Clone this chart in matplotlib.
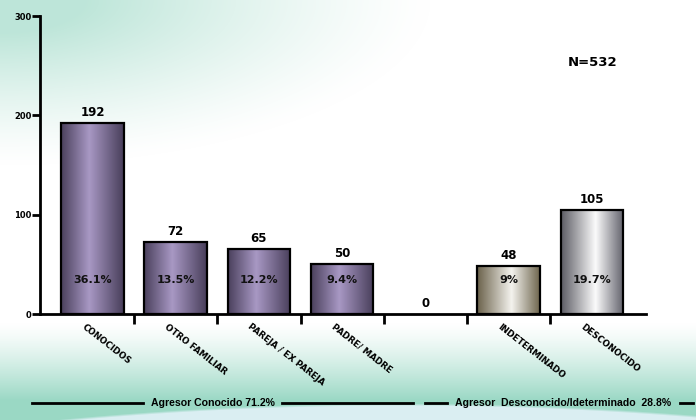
import numpy as np
import matplotlib
matplotlib.use("Agg")
import matplotlib.pyplot as plt
from matplotlib.colors import LinearSegmentedColormap

# datos
categorias = ["CONOCIDOS", "OTRO FAMILIAR", "PAREJA / EX PAREJA", "PADRE/ MADRE",
              "", "INDETERMINADO", "DESCONOCIDO"]
casos = [192, 72, 65, 50, 0, 48, 105]
porcentajes = ["36.1%", "13.5%", "12.2%", "9.4%", "", "9%", "19.7%"]
grupo = ["morado", "morado", "morado", "morado", "morado", "oliva", "gris"]
total_txt = "N=532"
leyenda_conocido = "Agresor Conocido 71.2%"
leyenda_desconocido = "Agresor  Desconocido/Ideterminado  28.8%"

# degradados horizontales de cada barra (borde oscuro, centro claro)
degradados = {
    "morado": [(0.0, "#4a405c"), (0.45, "#a898c4"), (1.0, "#483e5a")],
    "oliva": [(0.0, "#6a614a"), (0.55, "#f4f3ee"), (1.0, "#6e664e")],
    "gris": [(0.0, "#5c5c64"), (0.55, "#fbfbfb"), (1.0, "#60606a")],
}

W, H = 696, 420
fig = plt.figure(figsize=(W / 100, H / 100), dpi=100)

# fondo decorativo
yy, xx = np.mgrid[0:H, 0:W].astype(float)
img = np.ones((H, W, 3))
verde = np.array([100, 195, 165]) / 255.0
r = np.sqrt((xx / 430.0) ** 2 + (yy / 165.0) ** 2)
a_sup = np.clip((1 - r) / 0.8, 0, 1) ** 1.3 * 0.42
a_inf = np.clip((yy - 322) / 78.0, 0, 1) ** 1.3 * 0.65
alpha = np.maximum(a_sup, a_inf)[..., None]
img = img * (1 - alpha) + verde * alpha
elip = ((xx - 400) / 1352.0) ** 2 + ((yy - 897) / 494.0) ** 2
celeste = np.array([218, 238, 242]) / 255.0
m = np.clip((1 - elip) / 0.01, 0, 1)[..., None]
img = img * (1 - m) + celeste * m
bg = fig.add_axes([0, 0, 1, 1])
bg.imshow(img, extent=[0, W, H, 0], aspect="auto", zorder=0)
bg.set_xlim(0, W)
bg.set_ylim(H, 0)
bg.axis("off")

# grafico principal
ax = fig.add_axes([40 / W, (H - 314) / H, (646 - 40) / W, (314 - 16) / H])
ax.patch.set_alpha(0)
x = np.arange(len(categorias))

barras = ax.bar(x, casos, width=0.75, facecolor="none", edgecolor="black",
                linewidth=1.6, zorder=3)
grad = np.linspace(0, 1, 256).reshape(1, -1)
for b, g in zip(barras, grupo):
    if b.get_height() <= 0:
        b.set_linewidth(0)
        continue
    cmap = LinearSegmentedColormap.from_list(g, degradados[g])
    x0, w, h = b.get_x(), b.get_width(), b.get_height()
    im = ax.imshow(grad, cmap=cmap, extent=[x0, x0 + w, 0, h], aspect="auto",
                   zorder=2)
    im.set_clip_path(b)
ax.set_xlim(-0.63, 6.65)
ax.set_ylim(0, 300)

for i, v in enumerate(casos):
    ax.annotate(str(v), xy=(i, v), xytext=(0, 4), textcoords="offset pixels",
                ha="center", va="bottom", fontsize=8.5, fontweight="bold")
    if porcentajes[i]:
        ax.text(i, 34, porcentajes[i], ha="center", va="center", fontsize=8,
                fontweight="bold", color="#111111", zorder=4)
    if categorias[i]:
        ax.annotate(categorias[i], xy=(i, 0), xytext=(-7, -8),
                    textcoords="offset pixels", ha="left", va="top",
                    rotation=-38, rotation_mode="anchor", fontsize=6.3,
                    fontweight="bold")

for s in ["top", "right"]:
    ax.spines[s].set_visible(False)
for s in ["left", "bottom"]:
    ax.spines[s].set_linewidth(2)
ax.set_yticks([0, 100, 200, 300])
ax.set_yticklabels(["0", "100", "200", "300"], fontsize=6, fontweight="bold")
ax.tick_params(axis="y", direction="out", length=6, width=2, pad=0)
ax.set_xticks(np.arange(0.5, 6, 1))
ax.set_xticklabels([])
ax.tick_params(axis="x", direction="out", length=7, width=2)

# textos sueltos
bg.text(593, 62, total_txt, ha="center", va="center", fontsize=9.5,
        fontweight="bold")
bg.plot([32, 143], [403, 403], color="black", lw=2)
bg.plot([282, 413], [403, 403], color="black", lw=2)
bg.text(213, 403, leyenda_conocido, ha="center", va="center", fontsize=7.6,
        fontweight="bold", family="Liberation Sans")
bg.plot([425, 447], [403, 403], color="black", lw=2)
bg.plot([680, 693], [403, 403], color="black", lw=2)
bg.text(563.5, 403, leyenda_desconocido, ha="center", va="center", fontsize=7.6,
        fontweight="bold", family="Liberation Sans")

fig.savefig("out.png", dpi=100)
